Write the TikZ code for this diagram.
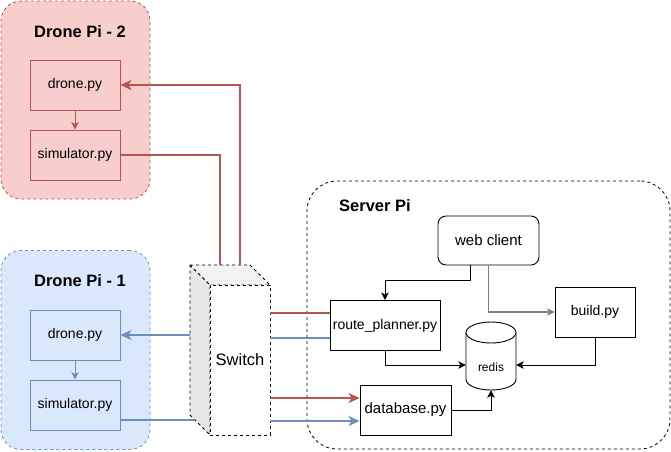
\documentclass[tikz,border=0pt]{standalone}
\usepackage{fontspec}
\setmainfont{Liberation Sans}
\usetikzlibrary{arrows.meta,calc}
\definecolor{redS}{HTML}{B85450}
\definecolor{redF}{HTML}{F8CECC}
\definecolor{blueS}{HTML}{6C8EBF}
\definecolor{blueF}{HTML}{DAE8FC}
\definecolor{grayS}{HTML}{7F7F7F}
\definecolor{sideF}{HTML}{E6E6E6}
\definecolor{topF}{HTML}{F2F2F2}
\begin{document}
\begin{tikzpicture}[x=1pt,y=-1pt,
  container/.style={draw,dash pattern=on 3pt off 3pt,line width=0.8pt,rounded corners=20pt,inner sep=0pt},
  box/.style={draw,line width=0.9pt,inner sep=0pt,font=\fontsize{14}{16}\selectfont},
  bigfont/.style={font=\fontsize{15}{17}\selectfont},
  titlefont/.style={font=\bfseries\fontsize{16.5}{19}\selectfont},
  link/.style={line width=2pt},
  bigtip/.style={-{Stealth[length=11pt,width=10pt,inset=3pt]}},
  smalltip/.style={-{Stealth[length=7.5pt,width=7.5pt,inset=2pt]}},
  wire/.style={line width=1pt},
  cubeface/.style={draw,dash pattern=on 3pt off 3pt,line width=0.8pt,line join=round},
]
\useasboundingbox (0,0) rectangle (671,451);

% containers
\node[container,fill=redF,draw=redS,minimum width=149pt,minimum height=198pt] (dp2) at (75.5,100) {};
\node[container,fill=blueF,draw=blueS,minimum width=149pt,minimum height=199pt] (dp1) at (75.5,350) {};
\node[container,fill=white,rounded corners=30pt,minimum width=363pt,minimum height=268pt] (srv) at (488.5,315) {};

\node[titlefont] (dp2t) at (80,32) {Drone Pi - 2};
\node[titlefont] (dp1t) at (80,281) {Drone Pi - 1};
\node[titlefont,anchor=west,inner sep=0pt] (srvt) at (339,206) {Server Pi};

% drone pi 2
\node[box,draw=redS,minimum width=90pt,minimum height=50pt] (d2drone) at (75,85) {drone.py};
\node[box,draw=redS,minimum width=90pt,minimum height=50pt] (d2sim) at (75,155) {simulator.py};
% drone pi 1
\node[box,draw=blueS,minimum width=90pt,minimum height=50pt] (d1drone) at (75,335) {drone.py};
\node[box,draw=blueS,minimum width=90pt,minimum height=50pt] (d1sim) at (75,405) {simulator.py};

% switch cube
\path[cubeface,fill=sideF] (190,265) -- (210,285) -- (210,435) -- (190,415) -- cycle;
\path[cubeface,fill=topF] (190,265) -- (250,265) -- (270,285) -- (210,285) -- cycle;
\node[draw,dash pattern=on 3pt off 3pt,line width=0.8pt,fill=white,inner sep=0pt,
      minimum width=60pt,minimum height=150pt,font=\fontsize{16.5}{19}\selectfont] (sw) at (240,360) {Switch};
\coordinate (swT1) at (220,265);
\coordinate (swT2) at (240,265);
\coordinate (swL1) at (190,335);
\coordinate (swL2) at (195,420);

% server nodes
\node[box,rounded corners=8pt,bigfont,minimum width=101pt,minimum height=49pt] (wc) at (488.5,240.5) {web client};
\node[box,minimum width=110pt,minimum height=50pt] (rp) at (385,325.5) {route\_planner.py};
\node[box,minimum width=80pt,minimum height=50pt] (build) at (595,312) {build.py};
\node[box,bigfont,minimum width=91pt,minimum height=50pt] (db) at (405.5,410) {database.py};
\node[inner sep=0pt,minimum width=50pt,minimum height=68pt] (redis) at (491,356) {};
\path[draw,line width=0.9pt,fill=white] (466,332.5) -- (466,379.5)
   .. controls (466,385.3) and (477.2,390) .. (491,390)
   .. controls (504.8,390) and (516,385.3) .. (516,379.5) -- (516,332.5);
\draw[line width=0.9pt,fill=white] (491,332.5) ellipse [x radius=25, y radius=10.5];
\node[font=\fontsize{12}{14}\selectfont] (redislbl) at (491,367) {redis};

% drone pi connectors
\draw[wire,redS,smalltip] (d2drone.south) -- (d2sim.north);
\draw[wire,blueS,smalltip] (d1drone.south) -- (d1sim.north);
\draw[link,redS,bigtip] (swT2) |- (d2drone.east);
\draw[link,redS] (d2sim.east) -| (swT1);
\draw[link,blueS,bigtip] (swL1) -- (d1drone.east);
\coordinate (d1out) at ($(d1sim.east)+(0,15)$);
\draw[link,blueS] (d1out) -- (swL2);

% switch to server
\coordinate (rpR) at ($(rp.west)+(0,-12.5)$);
\coordinate (rpB) at ($(rp.west)+(0,12.5)$);
\coordinate (dbR) at ($(db.west)+(0,-12)$);
\coordinate (dbB) at ($(db.west)+(0,11)$);
\draw[link,redS] (sw.east |- rpR) -- (rpR);
\draw[link,blueS] (sw.east |- rpB) -- (rpB);
\draw[link,redS,bigtip] (sw.east |- dbR) -- (dbR);
\draw[link,blueS,bigtip] (sw.east |- dbB) -- (dbB);

% server connectors
\draw[wire,smalltip] ($(wc.south)+(-18,0)$) -- ++(0,15) -| (rp.north);
\draw[wire,grayS,line width=1.4pt,smalltip] (wc.south) |- (build.west);
\draw[wire,smalltip] (rp.south) |- ($(redis.west)+(0,9)$);
\draw[wire,smalltip] (build.south) |- ($(redis.east)+(0,9)$);
\draw[wire,smalltip] (db.east) -| (redis.south);
\end{tikzpicture}
\end{document}
